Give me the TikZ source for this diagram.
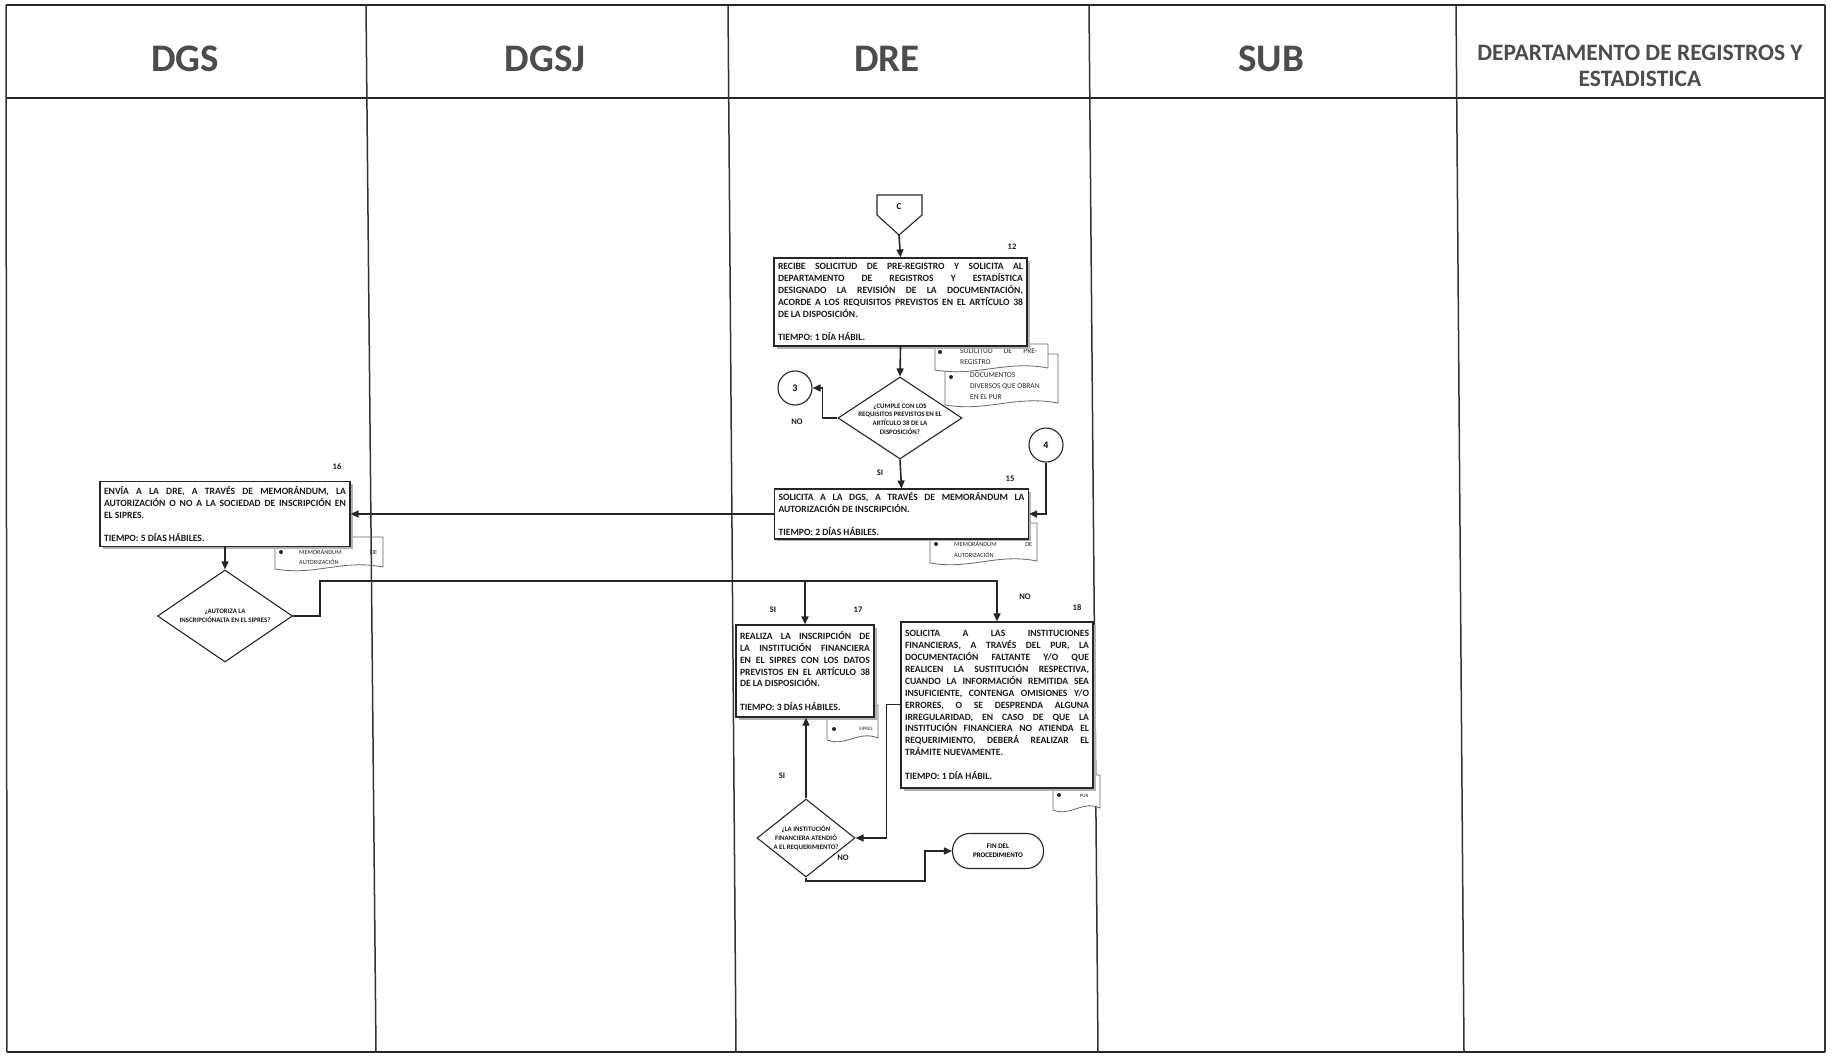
\documentclass[tikz,border=0pt]{standalone}
\usepackage{fontspec}
\setmainfont{Carlito}
\usetikzlibrary{arrows.meta,shapes.geometric,shadows}
\setlength{\parindent}{0pt}
\newcommand\boxfont{\bfseries\fontsize{9.6}{11.9}\selectfont\hyphenpenalty=10000\exhyphenpenalty=10000}
\newcommand\gapline{\par\vspace{11.9pt}}
\newcommand\docshape[4]{\path[docline] (#1,#2) -- (#3,#2) -- (#3,#4-2) .. controls ({#1+0.62*(#3-#1)},#4-10) and ({#1+0.38*(#3-#1)},#4+7) .. (#1,#4) -- cycle;}
\begin{document}
\begin{tikzpicture}[x=1pt,y=-1pt,
 frame/.style={draw=black!85, line width=2pt},
 lane/.style={draw=black!80, line width=1.5pt},
 head/.style={font=\bfseries\fontsize{39}{44}\selectfont, text=black!70, anchor=base, inner sep=0pt},
 headsmall/.style={font=\bfseries\fontsize{23.5}{26}\selectfont, text=black!70, anchor=base, inner sep=0pt},
 proc/.style={draw=black!85, line width=1.2pt, fill=white, rectangle, inner xsep=4pt, inner ysep=3pt, align=justify, font=\boxfont, text=black!90, drop shadow={shadow xshift=2.5pt, shadow yshift=-2.5pt, fill=black!30, opacity=1}},
 dia/.style={diamond, draw=black!85, line width=1.1pt, fill=white, inner sep=0pt},
 dtext/.style={font=\bfseries\fontsize{6.8}{8.8}\selectfont, align=center, inner sep=0pt, text=black!90},
 conn/.style={circle, draw=black!85, line width=1.1pt, fill=white, minimum size=34pt, inner sep=0pt, font=\bfseries\fontsize{10}{12}\selectfont},
 term/.style={rectangle, rounded corners=17pt, draw=black!85, line width=1.1pt, fill=white, minimum width=91pt, minimum height=35pt, align=center, font=\bfseries\fontsize{7}{9}\selectfont},
 flow/.style={draw=black!85, line width=1.6pt, -{Triangle[length=8pt,width=7pt]}},
 lbl/.style={font=\bfseries\fontsize{8.5}{10}\selectfont, inner sep=0pt, text=black!90},
 docline/.style={draw=black!60, line width=0.8pt, fill=white},
 doctext/.style={font=\fontsize{7.5}{11}\selectfont, inner sep=0pt, align=justify, text=black!85},
 memotext/.style={font=\fontsize{6.3}{10.5}\selectfont, inner sep=0pt, align=justify, text=black!85},
 tinytext/.style={font=\fontsize{5}{6}\selectfont, inner sep=0pt, text=black!85},
 bul/.style={fill=black!85}
]
\useasboundingbox (0,0) rectangle (1832,1057);
\fill[white] (0,0) rectangle (1832,1057);

% ---- lanes and frame
\draw[frame] (6,5) -- (1825,5);
\draw[frame] (6,98) -- (1825,98);
\draw[frame] (7,1052) -- (1825,1052);
\draw[lane] (6,5) -- (7,1052);
\draw[lane] (366,5) -- (376,1052);
\draw[lane] (728,5) -- (736,1052);
\draw[lane] (1089,5) -- (1098,1052);
\draw[lane] (1456,5) -- (1464,1052);
\draw[lane] (1825,5) -- (1825,1052);

\node[head] (hDGS) at (185,72) {DGS};
\node[head] (hDGSJ) at (545,72) {DGSJ};
\node[head] (hDRE) at (887,72) {DRE};
\node[head] (hSUB) at (1271,72) {SUB};
\node[headsmall] (hDEP1) at (1640,60.5) {DEPARTAMENTO DE REGISTROS Y};
\node[headsmall] (hDEP2) at (1640,86.5) {ESTADISTICA};

% ---- documents (behind boxes)
\docshape{945}{354}{1058}{405}
\docshape{935}{344}{1048}{370}
\fill[bul] (940,352) circle[radius=2pt];
\node[doctext, anchor=north west, text width=77pt] (t1) at (960,348.5) {SOLICITUD DE PRE-\linebreak REGISTRO};
\fill[bul] (951,377) circle[radius=2pt];
\node[doctext, anchor=north west, align=left] (t2) at (970,372) {DOCUMENTOS\\DIVERSOS QUE OBRAN\\EN EL PUR};

\docshape{930}{523}{1037}{563}
\fill[bul] (936,544) circle[radius=2pt];
\node[memotext, anchor=north west, text width=78pt] (t3) at (954,541.5) {MEMORÁNDUM DE\linebreak AUTORIZACIÓN};

\path[draw=black!60, line width=0.8pt] (275,537) -- (383,537) -- (383,567) .. controls (342,559) and (316,576) .. (275,569) -- cycle;
\fill[bul] (281,552) circle[radius=2pt];
\node[memotext, anchor=north west, text width=78pt] (t4) at (299,549) {MEMORÁNDUM DE\linebreak AUTORIZACIÓN};

\docshape{827}{705}{878}{740}
\fill[bul] (834,729) circle[radius=2pt];
\node[tinytext] (t5) at (866,729) {SIPRES};

\docshape{1053}{775}{1100}{810}
\fill[bul] (1059,795) circle[radius=2pt];
\node[tinytext] (t6) at (1084,796) {PUR};

% ---- off-page connector C
\path[draw=black!85, line width=1.1pt, fill=white] (877,195) -- (922,195) -- (922,215) -- (899,235) -- (877,215) -- cycle;
\node[font=\bfseries\fontsize{9}{10}\selectfont, inner sep=0pt] (Ctxt) at (899,207) {C};
\coordinate (Cs) at (899,235);

% ---- process boxes
\node[proc, text width=245pt, minimum height=88pt] (b12) at (900.5,302) {RECIBE SOLICITUD DE PRE-REGISTRO Y SOLICITA AL\linebreak DEPARTAMENTO DE REGISTROS Y ESTADÍSTICA\linebreak DESIGNADO LA REVISIÓN DE LA DOCUMENTACIÓN,\linebreak ACORDE A LOS REQUISITOS PREVISTOS EN EL ARTÍCULO 38\linebreak DE LA DISPOSICIÓN.\gapline TIEMPO: 1 DÍA HÁBIL.};

\node[dia, minimum width=124pt, minimum height=82pt] (d1) at (900,418) {};
\node[dtext] (d1t) at (900,419) {¿CUMPLE CON LOS\\REQUISITOS PREVISTOS EN EL\\ARTÍCULO 38 DE LA\\DISPOSICIÓN?};

\node[conn] (c3) at (795,388) {3};
\node[conn] (c4) at (1046,445) {4};

\node[proc, text width=246pt, minimum height=48pt] (b15) at (901.5,514) {SOLICITA A LA DGS, A TRAVÉS DE MEMORÁNDUM LA\linebreak AUTORIZACIÓN DE INSCRIPCIÓN.\gapline TIEMPO: 2 DÍAS HÁBILES.};

\node[proc, text width=242pt, minimum height=65pt] (b16) at (225,514) {ENVÍA A LA DRE, A TRAVÉS DE MEMORÁNDUM, LA\linebreak AUTORIZACIÓN O NO A LA SOCIEDAD DE INSCRIPCIÓN EN\linebreak EL SIPRES.\gapline TIEMPO: 5 DÍAS HÁBILES.};

\node[dia, minimum width=135pt, minimum height=92pt] (d2) at (225,616) {};
\node[dtext] (d2t) at (225,616) {¿AUTORIZA LA\\INSCRIPCIÓNALTA EN EL SIPRES?};

\node[proc, text width=130pt, minimum height=92pt] (b17) at (805,671) {REALIZA LA INSCRIPCIÓN DE\linebreak LA INSTITUCIÓN FINANCIERA\linebreak EN EL SIPRES CON LOS DATOS\linebreak PREVISTOS EN EL ARTÍCULO 38\linebreak DE LA DISPOSICIÓN.\gapline TIEMPO: 3 DÍAS HÁBILES.};

\node[proc, text width=184pt, minimum height=166pt] (b18) at (997,705) {SOLICITA A LAS INSTITUCIONES\linebreak FINANCIERAS, A TRAVÉS DEL PUR, LA\linebreak DOCUMENTACIÓN FALTANTE Y/O QUE\linebreak REALICEN LA SUSTITUCIÓN RESPECTIVA,\linebreak CUANDO LA INFORMACIÓN REMITIDA SEA\linebreak INSUFICIENTE, CONTENGA OMISIONES Y/O\linebreak ERRORES, O SE DESPRENDA ALGUNA\linebreak IRREGULARIDAD, EN CASO DE QUE LA\linebreak INSTITUCIÓN FINANCIERA NO ATIENDA EL\linebreak REQUERIMIENTO, DEBERÁ REALIZAR EL\linebreak TRÁMITE NUEVAMENTE.\gapline TIEMPO: 1 DÍA HÁBIL.};

\node[dia, minimum width=98pt, minimum height=78pt] (d3) at (806,838) {};
\node[dtext] (d3t) at (806,838) {¿LA INSTITUCIÓN\\FINANCIERA ATENDIÓ\\A EL REQUERIMIENTO?};

\node[term] (fin) at (998,851) {FIN DEL\\PROCEDIMIENTO};

% ---- connectors
\draw[flow] (Cs) -- (b12.north);
\draw[flow] (b12.south) -- (d1.north);
\draw[flow] (d1.west) -- ++(-15,0) |- (c3.east);
\draw[flow] (d1.south) -- (b15.north);
\draw[flow] (c4.south) |- (b15.east);
\draw[flow] (b15.west) -- (b15.west -| b16.east);
\draw[flow] (b16.south) -- (d2.north);
\coordinate (split) at (320,581);
\draw[flow] (d2.east) -| (split) -| (b18.north);
\draw[flow] (split -| b17.north) -- (b17.north);
\draw[flow] ([yshift=-83pt]b18.north west) -- ++(-14,0) |- (d3.east);
\draw[flow] (d3.north) -- (d3.north |- b17.south);
\coordinate (bend) at (925,881);
\draw[flow] (d3.south) |- (bend) |- (fin.west);

% ---- labels
\node[lbl] (n12) at (1012,247) {12};
\node[lbl] (n15) at (1010,479) {15};
\node[lbl] (n16) at (337,467) {16};
\node[lbl] (n17) at (858,610) {17};
\node[lbl] (n18) at (1077,608) {18};
\node[lbl] (lno1) at (797,422) {NO};
\node[lbl] (lsi1) at (880,473) {SI};
\node[lbl] (lsi2) at (773,610) {SI};
\node[lbl] (lno2) at (1025,597) {NO};
\node[lbl] (lsi3) at (782,776) {SI};
\node[lbl] (lno3) at (843,858) {NO};
\end{tikzpicture}
\end{document}
